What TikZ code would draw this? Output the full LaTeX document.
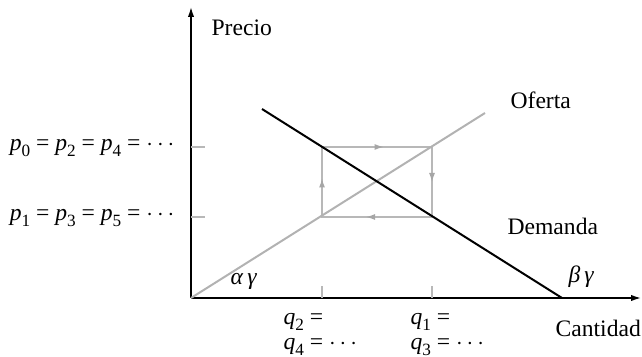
\documentclass[tikz,border=0pt]{standalone}
\usepackage{fontspec}
\setmainfont{Liberation Serif}
\usetikzlibrary{arrows.meta,calc}
\newcommand\ix[2]{\textit{#1}\raisebox{-.5ex}{\fontsize{8.6}{9}\selectfont #2}}
\newcommand\cdt{$\cdots$}

\begin{document}
\begin{tikzpicture}[x=.5pt,y=-.5pt,line width=.6pt,font=\fontsize{11.8}{15}\selectfont,
    axis/.style={line width=.75pt,-{Latex[length=5pt,width=3.2pt]}},
    web/.style={draw=black!28,line width=.6pt},
    webtip/.style={web,-{Latex[length=4.5pt,width=3pt,fill=black!35,color=black!35]}}]
  \useasboundingbox (0,0) rectangle (642,357);
  \coordinate (o) at (191,298);
  \coordinate (ytop) at (191,7);
  \coordinate (xend) at (641,298);
  % equilibrium web corners
  \coordinate (tl) at (322,147);
  \coordinate (tr) at (432,147);
  \coordinate (br) at (432,217);
  \coordinate (bl) at (322,217);
  \coordinate (so) at (485,113);
  \coordinate (da) at (262,109);
  \coordinate (db) at (562,298);
  \draw[axis] (o)--(ytop);
  \draw[axis] (o)--(xend);
  \draw[web] (191,147)--(205,147) (191,217)--(205,217);
  \draw[web] (322,298)--(322,286) (432,298)--(432,286);
  \draw[web] (tl)--(tr)--(br)--(bl)--cycle;
  \draw[webtip] (tl)--($(tl)!.56!(tr)$);
  \draw[webtip] (tr)--($(tr)!.5!(br)$);
  \draw[webtip] (br)--($(br)!.6!(bl)$);
  \draw[webtip] (bl)--($(bl)!.55!(tl)$);
  \draw[draw=black!30,line width=1pt] (o)--(so);
  \draw[line width=1pt] (da)--(db);
  \node[anchor=base west,inner sep=0] (precio) at (211,36) {Precio};
  \node[anchor=base west,inner sep=0] (oferta) at (510,109) {Oferta};
  \node[anchor=base west,inner sep=0] (demanda) at (507,235) {Demanda};
  \node[anchor=base west,inner sep=0] (cantidad) at (555,337) {Cantidad};
  \node[anchor=base west,inner sep=0] (ag) at (230,285) {\textit{α}\,\textit{γ}};
  \node[anchor=base west,inner sep=0] (bg) at (568,283) {\textit{β}\,\textit{γ}};
  \node[anchor=east,inner sep=0] (peven) at (175,148) {\ix p0 = \ix p2 = \ix p4 = \cdt};
  \node[anchor=east,inner sep=0] (podd) at (175,218) {\ix p1 = \ix p3 = \ix p5 = \cdt};
  \node[anchor=base west,inner sep=0] (qtwo) at (283,325) {\ix q2 =};
  \node[anchor=base west,inner sep=0] (qfour) at (283,350) {\ix q4 = \cdt};
  \node[anchor=base west,inner sep=0] (qone) at (410,325) {\ix q1 =};
  \node[anchor=base west,inner sep=0] (qthree) at (410,350) {\ix q3 = \cdt};
\end{tikzpicture}
\end{document}
